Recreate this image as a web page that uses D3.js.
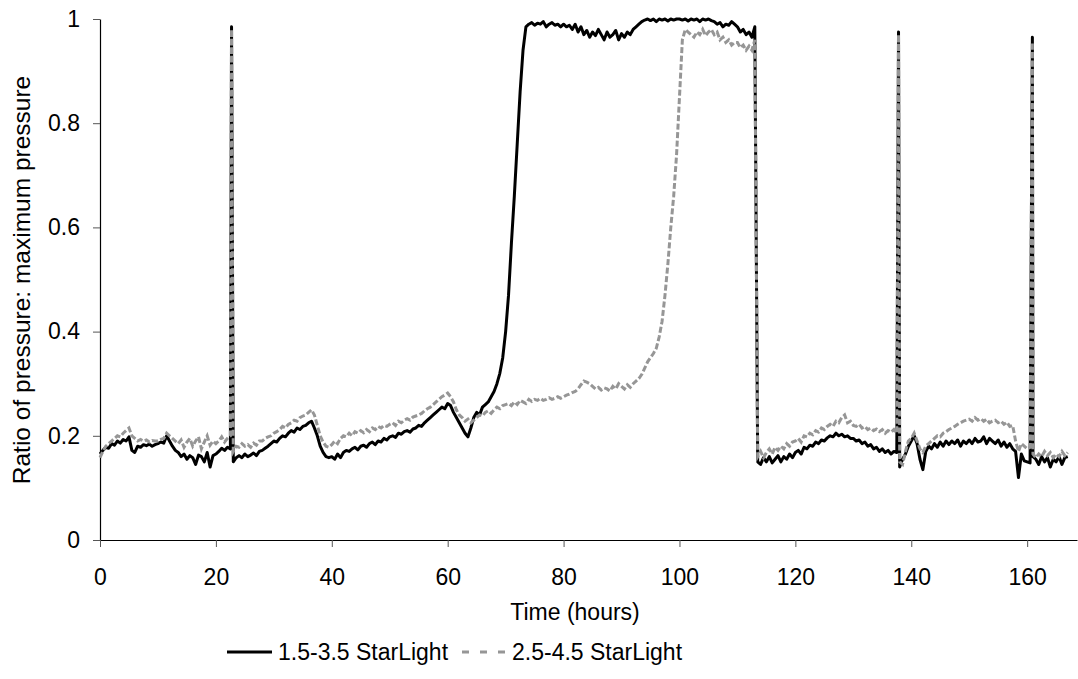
<!DOCTYPE html>
<html>
<head>
<meta charset="utf-8">
<script src="https://cdn.jsdelivr.net/npm/d3@7"></script>
<style>
  body { margin: 0; background: #fff; }
  text { font-family: "Liberation Sans", Arial, sans-serif; fill: #000; }
</style>
</head>
<body>
<div id="chart"></div>
<script>
// half-hour grid, 0 .. 167 h
const hours = d3.range(0, 167.01, 0.5);

// 1.5-3.5 StarLight (black), one row = 10 hours
const blackRatio = [
  0.165,0.172,0.178,0.176,0.185,0.182,0.19,0.186,0.193,0.19, 0.198,0.172,0.168,0.18,0.178,0.183,0.181,0.184,0.18,0.183,
  0.185,0.188,0.186,0.2,0.19,0.18,0.172,0.168,0.16,0.165, 0.155,0.162,0.158,0.145,0.163,0.16,0.15,0.168,0.14,0.162,
  0.165,0.17,0.176,0.172,0.178,0.175, 0.15,0.158,0.162,0.158, 0.165,0.16,0.163,0.167,0.162,0.17, 0.172,0.176,0.18,0.185,
  0.19,0.188,0.195,0.2,0.198,0.205,0.21,0.207,0.215,0.212, 0.218,0.22,0.225,0.228,0.215,0.2,0.18,0.168,0.16,0.158,
  0.16,0.155,0.165,0.158,0.168,0.172,0.17,0.175,0.178,0.173, 0.18,0.182,0.178,0.185,0.188,0.183,0.19,0.188,0.195,0.192,
  0.198,0.2,0.197,0.205,0.203,0.208,0.21,0.207,0.213,0.215, 0.22,0.218,0.225,0.23,0.235,0.24,0.245,0.25,0.255,0.252,
  0.262,0.258,0.245,0.235,0.225,0.215,0.205,0.198,0.215,0.235, 0.245,0.24,0.255,0.26,0.265,0.275,0.285,0.3,0.32,0.35,
  0.4,0.47,0.57,0.66,0.76,0.86,0.94,0.985,0.99,0.993, 0.988,0.992,0.99,0.995,0.985,0.99,0.993,0.988,0.99,0.985,
  0.99,0.985,0.988,0.98,0.99,0.975,0.985,0.97,0.978,0.965, 0.975,0.968,0.98,0.97,0.96,0.975,0.965,0.97,0.978,0.96,
  0.972,0.965,0.975,0.97,0.98,0.985,0.99,0.995,0.998,1.0, 0.997,1.0,0.995,1.0,0.998,1.0,0.996,1.0,0.998,1.0,
  1.0,0.998,1.0,0.996,1.0,0.998,1.0,0.995,1.0,0.998, 1.0,0.997,0.995,0.99,0.993,0.985,0.99,0.988,0.995,0.99,
  0.985,0.975,0.98,0.97,0.975,0.965,0.985,0.15,0.145,0.158, 0.15,0.16,0.148,0.155,0.162,0.15,0.16,0.155,0.165,0.158,
  0.168,0.172,0.165,0.178,0.175,0.182,0.18,0.188,0.185,0.192, 0.19,0.196,0.2,0.198,0.205,0.2,0.203,0.198,0.2,0.195,
  0.195,0.19,0.192,0.185,0.188,0.18,0.183,0.175,0.178,0.17, 0.175,0.168,0.172,0.165,0.17,0.168,0.14,0.155,0.165,0.18,
  0.19,0.2,0.185,0.155,0.135,0.17,0.18,0.175,0.185,0.178, 0.188,0.18,0.19,0.183,0.19,0.185,0.192,0.18,0.19,0.185,
  0.192,0.185,0.195,0.188,0.19,0.198,0.185,0.195,0.19,0.185, 0.192,0.18,0.188,0.178,0.185,0.175,0.17,0.12,0.165,0.152,
  0.15,0.148,0.16,0.155,0.145,0.16,0.15,0.158,0.14,0.155, 0.15,0.16,0.145,0.158,0.16
];

// 2.5-4.5 StarLight (grey, dashed)
const greyRatio = [
  0.158,0.17,0.18,0.185,0.19,0.195,0.2,0.198,0.205,0.21, 0.215,0.2,0.195,0.19,0.193,0.19,0.192,0.188,0.191,0.19,
  0.19,0.193,0.195,0.205,0.2,0.195,0.19,0.185,0.192,0.178, 0.188,0.195,0.18,0.19,0.198,0.175,0.188,0.2,0.182,0.19,
  0.185,0.19,0.198,0.188,0.195,0.2, 0.17,0.18,0.178,0.185, 0.18,0.183,0.178,0.186,0.182,0.19, 0.19,0.195,0.198,0.2,
  0.205,0.208,0.212,0.218,0.215,0.222,0.225,0.23,0.228,0.235, 0.238,0.24,0.245,0.25,0.24,0.22,0.2,0.188,0.18,0.178,
  0.183,0.19,0.185,0.195,0.2,0.198,0.205,0.2,0.208,0.205, 0.21,0.206,0.212,0.208,0.215,0.212,0.218,0.215,0.22,0.218,
  0.222,0.225,0.22,0.228,0.225,0.23,0.233,0.23,0.236,0.238, 0.24,0.243,0.248,0.252,0.255,0.26,0.265,0.27,0.275,0.278,
  0.282,0.275,0.265,0.25,0.24,0.235,0.228,0.232,0.225,0.23, 0.235,0.24,0.238,0.245,0.248,0.243,0.25,0.255,0.252,0.258,
  0.26,0.262,0.258,0.265,0.26,0.268,0.265,0.262,0.27,0.266, 0.27,0.268,0.272,0.268,0.27,0.273,0.27,0.272,0.275,0.272,
  0.275,0.278,0.28,0.283,0.285,0.29,0.298,0.305,0.303,0.3, 0.295,0.29,0.293,0.288,0.292,0.29,0.286,0.295,0.29,0.3,
  0.295,0.29,0.298,0.293,0.3,0.305,0.31,0.318,0.33,0.342, 0.35,0.358,0.368,0.39,0.42,0.47,0.53,0.6,0.66,0.74,
  0.85,0.96,0.98,0.975,0.97,0.965,0.975,0.97,0.98,0.968, 0.975,0.98,0.97,0.975,0.96,0.965,0.955,0.96,0.95,0.955,
  0.955,0.945,0.95,0.94,0.948,0.94,0.96,0.16,0.17,0.158, 0.168,0.175,0.165,0.178,0.172,0.18,0.175,0.185,0.18,0.188,
  0.19,0.195,0.188,0.2,0.198,0.205,0.202,0.21,0.207,0.215, 0.212,0.218,0.222,0.218,0.228,0.225,0.235,0.24,0.225,0.228,
  0.22,0.218,0.222,0.215,0.218,0.212,0.215,0.21,0.213,0.208, 0.212,0.205,0.21,0.207,0.212,0.205,0.15,0.145,0.17,0.19,
  0.195,0.205,0.19,0.175,0.168,0.18,0.185,0.19,0.195,0.2, 0.198,0.205,0.208,0.212,0.215,0.218,0.222,0.225,0.228,0.23,
  0.232,0.228,0.235,0.23,0.233,0.228,0.232,0.225,0.228,0.23, 0.225,0.228,0.222,0.226,0.218,0.22,0.19,0.17,0.185,0.18,
  0.175,0.178,0.165,0.158,0.165,0.16,0.17,0.162,0.168,0.158, 0.165,0.16,0.17,0.162,0.168
];

// short pressure pulses that fall between grid points
const pulseHours = [22.7, 137.8, 160.9];
const blackPulse = [0.985, 0.975, 0.965];
const greyPulse = [0.98, 0.97, 0.955];

const xTicks = [0, 20, 40, 60, 80, 100, 120, 140, 160];
const yTicks = [0, 0.2, 0.4, 0.6, 0.8, 1];
const seriesNames = ["1.5-3.5 StarLight", "2.5-4.5 StarLight"];

const width = 1078, height = 679;
const margin = {top: 19, right: 1, bottom: 139, left: 100};

const svg = d3.select("#chart")
              .append("svg")
              .attr("width", width)
              .attr("height", height);

const x = d3.scaleLinear()
            .domain([0, 168.6])
            .range([margin.left, width - margin.right]);

const y = d3.scaleLinear()
            .domain([0, 1])
            .range([height - margin.bottom, margin.top]);

function buildSeries(values, pulses) {
    const pts = hours.map((h, i) => ({h: h, v: values[i]}));
    pulseHours.forEach((h, i) => pts.push({h: h, v: pulses[i]}));
    return pts.sort((a, b) => a.h - b.h);
}

const blackData = buildSeries(blackRatio, blackPulse);
const greyData = buildSeries(greyRatio, greyPulse);

// axes
const yAxis = svg.append("g")
                 .attr("transform", `translate(${margin.left},0)`)
                 .call(d3.axisLeft(y)
                         .tickValues(yTicks)
                         .tickSize(7)
                         .tickSizeOuter(0)
                         .tickPadding(13)
                         .tickFormat(d => String(+d.toFixed(1))));

const xAxis = svg.append("g")
                 .attr("transform", `translate(0,${y(0)})`)
                 .call(d3.axisBottom(x)
                         .tickValues(xTicks)
                         .tickSize(7)
                         .tickSizeOuter(0)
                         .tickPadding(22)
                         .tickFormat(d3.format("d")));

[xAxis, yAxis].forEach(ax => {
    ax.select(".domain").attr("stroke", "#000").attr("stroke-width", 1.2);
    ax.selectAll(".tick line").attr("stroke", "#555");
    ax.selectAll(".tick text")
      .attr("fill", "#000")
      .style("font-size", "23px")
      .style("font-family", "'Liberation Sans', Arial, sans-serif");
});

// axis titles
svg.append("text")
   .attr("x", 575)
   .attr("y", 620)
   .attr("text-anchor", "middle")
   .style("font-size", "23px")
   .text("Time (hours)");

svg.append("text")
   .attr("transform", "translate(30,280) rotate(-90)")
   .attr("text-anchor", "middle")
   .style("font-size", "24.5px")
   .text("Ratio of pressure: maximum pressure");

// lines
const line = d3.line()
               .x(d => x(d.h))
               .y(d => y(d.v));

svg.append("path")
   .datum(blackData)
   .attr("fill", "none")
   .attr("stroke", "#000")
   .attr("stroke-width", 3)
   .attr("stroke-linejoin", "round")
   .attr("d", line);

svg.append("path")
   .datum(greyData)
   .attr("fill", "none")
   .attr("stroke", "#969696")
   .attr("stroke-width", 3)
   .attr("stroke-dasharray", "6,2.5")
   .attr("d", line);

// legend
const legend = svg.append("g");
const legendY = 652;

legend.append("line")
      .attr("x1", 227).attr("x2", 272)
      .attr("y1", legendY).attr("y2", legendY)
      .attr("stroke", "#000")
      .attr("stroke-width", 3);

legend.append("text")
      .attr("x", 278)
      .attr("y", legendY)
      .attr("dy", "0.35em")
      .style("font-size", "23px")
      .text(seriesNames[0]);

legend.append("line")
      .attr("x1", 462).attr("x2", 505)
      .attr("y1", legendY).attr("y2", legendY)
      .attr("stroke", "#969696")
      .attr("stroke-width", 3)
      .attr("stroke-dasharray", "7,11");

legend.append("text")
      .attr("x", 512)
      .attr("y", legendY)
      .attr("dy", "0.35em")
      .style("font-size", "23px")
      .text(seriesNames[1]);
</script>
</body>
</html>
